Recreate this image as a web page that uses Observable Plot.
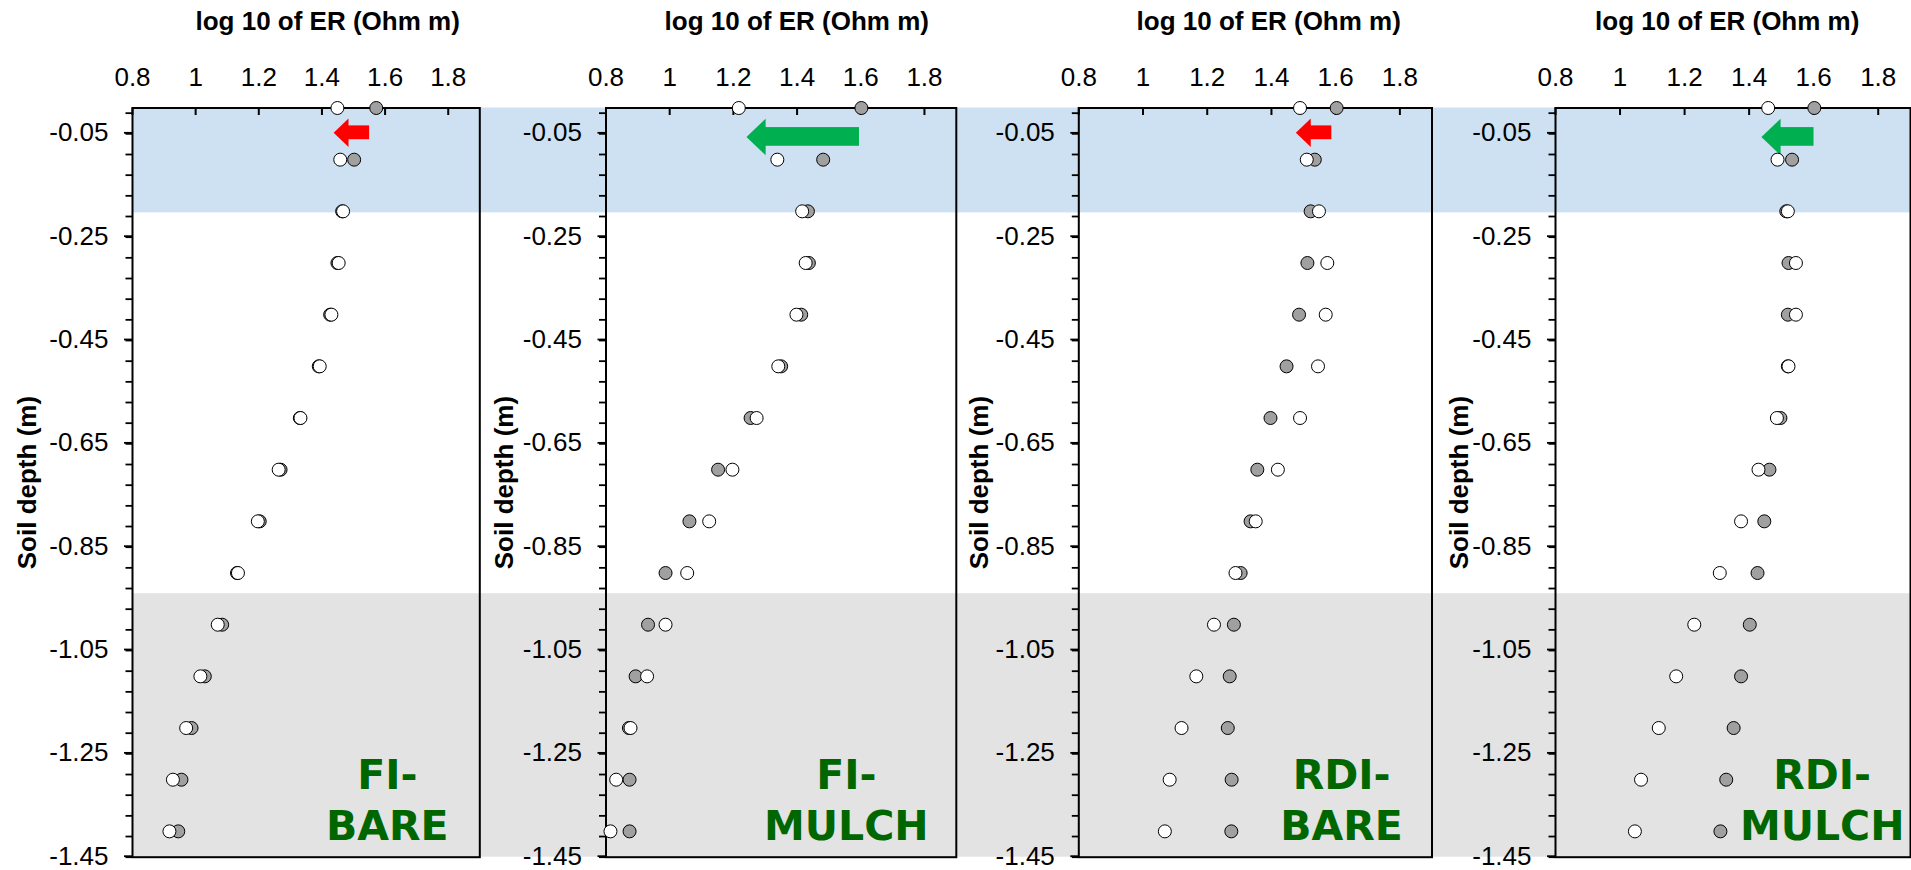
<!DOCTYPE html>
<html>
<head>
<meta charset="utf-8">
<script src="https://cdn.jsdelivr.net/npm/d3@7"></script>
<script src="https://cdn.jsdelivr.net/npm/@observablehq/plot@0.6"></script>
<style>
html, body { margin: 0; padding: 0; background: #ffffff; }
#chart { position: relative; width: 1911px; height: 870px; overflow: hidden; }
#chart svg { position: absolute; left: 0; top: 0; }
</style>
</head>
<body>
<div id="chart"></div>
<script>
// ---------- data ----------
const depths = [0, -0.1, -0.2, -0.3, -0.4, -0.5, -0.6, -0.7, -0.8, -0.9, -1.0, -1.1, -1.2, -1.3, -1.4];

const fiBareWhite   = [1.449, 1.458, 1.467, 1.453, 1.430, 1.393, 1.332, 1.263, 1.197, 1.134, 1.070, 1.015, 0.970, 0.928, 0.917];
const fiBareGray    = [1.572, 1.502, 1.464, 1.449, 1.426, 1.390, 1.330, 1.269, 1.203, 1.131, 1.084, 1.029, 0.987, 0.955, 0.945];

const fiMulchWhite  = [1.217, 1.338, 1.416, 1.427, 1.398, 1.341, 1.273, 1.197, 1.124, 1.055, 0.987, 0.929, 0.877, 0.832, 0.814];
const fiMulchGray   = [1.602, 1.482, 1.434, 1.437, 1.413, 1.350, 1.254, 1.152, 1.062, 0.987, 0.932, 0.893, 0.872, 0.874, 0.874];

const rdiBareWhite  = [1.489, 1.510, 1.548, 1.574, 1.569, 1.545, 1.489, 1.420, 1.351, 1.288, 1.221, 1.166, 1.120, 1.083, 1.068];
const rdiBareGray   = [1.603, 1.535, 1.522, 1.512, 1.486, 1.447, 1.397, 1.356, 1.335, 1.304, 1.283, 1.270, 1.264, 1.276, 1.275];

const rdiMulchWhite = [1.459, 1.488, 1.520, 1.545, 1.545, 1.522, 1.486, 1.429, 1.375, 1.309, 1.230, 1.174, 1.120, 1.065, 1.046];
const rdiMulchGray  = [1.602, 1.533, 1.515, 1.522, 1.520, 1.520, 1.497, 1.463, 1.447, 1.426, 1.402, 1.375, 1.352, 1.329, 1.311];

const panelNames = ["FI-\nBARE", "FI-\nMULCH", "RDI-\nBARE", "RDI-\nMULCH"];

// arrows (change of ER at the surface)
const arrowFrom  = [1.551, 1.596, 1.588, 1.601];
const arrowTo    = [1.437, 1.241, 1.476, 1.438];
const arrowDepth = [-0.048, -0.056, -0.048, -0.056];
const arrowColor = ["#ff0000", "#00b050", "#ff0000", "#00b050"];

// shaded layers
const bandTop    = [0, -0.94];
const bandBottom = [-0.203, -1.45];
const bandFill   = ["#cde1f2", "#e3e3e3"];

// axes
const xDomain = [0.8, 1.9];
const yDomain = [-1.45, 0];
const xTicks = [0.8, 1, 1.2, 1.4, 1.6, 1.8];
const yLabelTicks = [-0.05, -0.25, -0.45, -0.65, -0.85, -1.05, -1.25, -1.45];
const yMinorTicks = d3.range(0, 37).map(k => +(-1.45 + 0.04 * k).toFixed(2));
const xTitle = "log 10 of ER (Ohm m)";
const yTitle = "Soil depth (m)";

// ---------- layout ----------
const W = 1911, H = 870, TOP = 107.5, BOTTOM = 856.7;
const frameLeft  = [132, 605.5, 1078.3, 1555];
const frameRight = [479.3, 955.8, 1431.5, 1910];
const titleDx  = [21.5, 15.6, 13.3, -5.8];
const yLabelDx = [-104.5, -101.5, -99.5, -95.5];
const nameDx   = [-92.5, -110, -90.4, -88.3];
const arrowBig = [false, true, false, true];

const whites = [fiBareWhite, fiMulchWhite, rdiBareWhite, rdiMulchWhite];
const grays  = [fiBareGray, fiMulchGray, rdiBareGray, rdiMulchGray];

const FONT = "'Liberation Sans', Arial, sans-serif";
const chart = document.getElementById("chart");

// background bands spanning the whole figure
const bands = bandTop.map((t, i) => ({top: t, bottom: bandBottom[i], fill: bandFill[i]}));
chart.append(Plot.plot({
  width: W, height: H,
  marginLeft: frameLeft[0], marginRight: 0, marginTop: TOP, marginBottom: H - BOTTOM,
  y: {domain: yDomain, axis: null},
  color: {type: "identity"},
  style: {background: "transparent"},
  marks: [Plot.rect(bands, {y1: "top", y2: "bottom", fill: "fill"})]
}));

// left-pointing arrow head symbol, r = half height
const leftHead = {
  draw(ctx, size) {
    const h = Math.sqrt(size / Math.PI);
    const l = h * 1.05;
    ctx.moveTo(0, 0);
    ctx.lineTo(l, -h);
    ctx.lineTo(l, h);
    ctx.closePath();
  }
};

function panel(i) {
  const pts = depths.map((d, k) => ({depth: d, white: whites[i][k], gray: grays[i][k]}));
  const arrow = [{from: arrowFrom[i], to: arrowTo[i], depth: arrowDepth[i]}];
  const big = arrowBig[i];
  const headH = big ? 18.3 : 14.2;
  const shaft = big ? 18.7 : 13.8;
  const headL = headH * 1.05;
  return Plot.plot({
    width: W, height: H,
    marginLeft: frameLeft[i], marginRight: W - frameRight[i],
    marginTop: TOP, marginBottom: H - BOTTOM,
    x: {domain: xDomain},
    y: {domain: yDomain},
    style: {background: "transparent", fontFamily: FONT, color: "black"},
    marks: [
      Plot.axisX(xTicks, {anchor: "top", tickSize: 0, tickPadding: 22.5, tickFormat: d => String(d), fontSize: 26, label: null}),
      Plot.tickX(xTicks, {x: d => d, insetBottom: (BOTTOM - TOP) - 7.5, stroke: "black", strokeWidth: 2}),
      Plot.axisY(yMinorTicks, {anchor: "left", tickSize: 6.5, tickFormat: () => "", strokeWidth: 1.8, label: null}),
      Plot.axisY(yLabelTicks, {anchor: "left", tickSize: 8, tickPadding: 16, tickFormat: d => d.toFixed(2), fontSize: 26, strokeWidth: 1.8, dy: -1, label: null}),
      Plot.frame({stroke: "black", strokeWidth: 2}),
      Plot.text([xTitle], {text: d => d, frameAnchor: "top", lineAnchor: "bottom", dy: 29.3 - TOP, dx: titleDx[i], fontSize: 26, fontWeight: "bold", fill: "black"}),
      Plot.text([yTitle], {text: d => d, frameAnchor: "left", textAnchor: "middle", lineAnchor: "middle", rotate: -90, dx: yLabelDx[i], fontSize: 26, fontWeight: "bold", fill: "black"}),
      Plot.text([panelNames[i]], {text: d => d, frameAnchor: "bottom-right", textAnchor: "middle", lineAnchor: "bottom", lineHeight: 1.26, dx: nameDx[i], dy: -17, fontSize: 41, fontWeight: "bold", fontFamily: "'DejaVu Sans', Verdana, sans-serif", fill: "#006600"}),
      Plot.rect(arrow, {x1: "to", x2: "from", y1: "depth", y2: "depth", insetTop: -shaft / 2, insetBottom: -shaft / 2, insetLeft: headL - 0.5, fill: arrowColor[i]}),
      Plot.dot(arrow, {x: "to", y: "depth", symbol: leftHead, r: headH, fill: arrowColor[i], stroke: "none"}),
      Plot.dot(pts, {x: "gray", y: "depth", r: 6.5, fill: "#a0a0a0", stroke: "black", strokeWidth: 1}),
      Plot.dot(pts, {x: "white", y: "depth", r: 6.5, fill: "white", stroke: "black", strokeWidth: 1})
    ]
  });
}

for (let i = 0; i < 4; i++) chart.append(panel(i));
</script>
</body>
</html>
